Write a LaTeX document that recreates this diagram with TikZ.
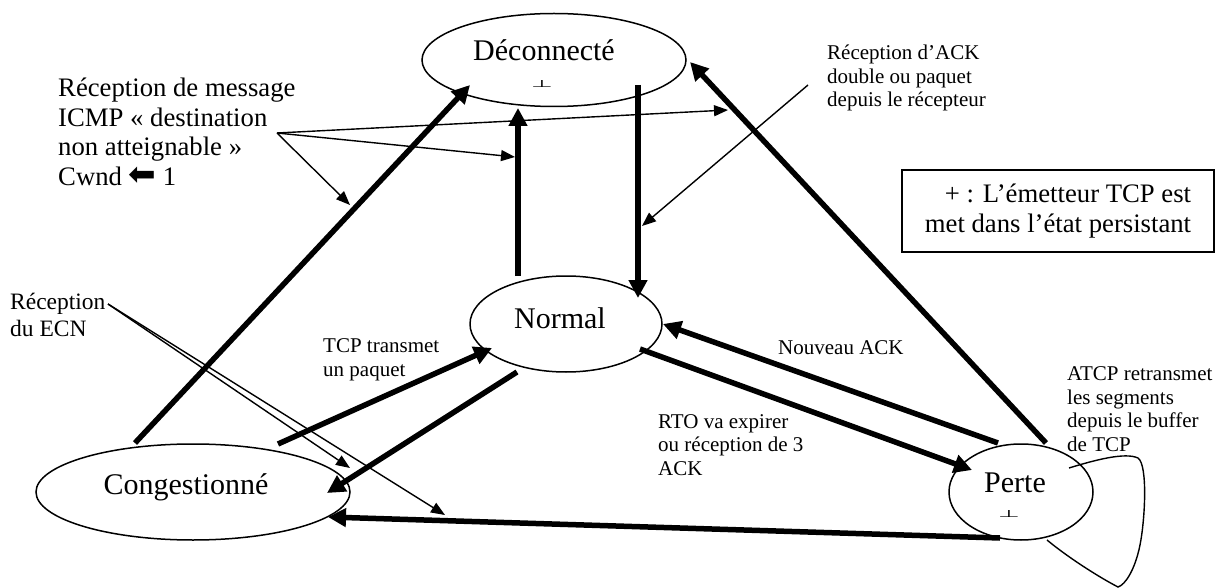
\documentclass[tikz,border=0pt]{standalone}
\usepackage{fontspec}
\setmainfont{Liberation Serif}
\newfontfamily\symf{DejaVu Sans}
\usetikzlibrary{shapes.geometric,calc,arrows.meta}
\begin{document}
\begin{tikzpicture}[x=1pt,y=-1pt,
  state/.style={draw, ellipse, line width=1.5pt, inner sep=0pt},
  big/.style={font=\fontsize{30}{34}\selectfont, inner sep=0pt},
  lab/.style={font=\fontsize{26.7}{29.5}\selectfont, align=left, inner sep=0pt},
  small/.style={font=\fontsize{21}{23.5}\selectfont, align=left, inner sep=0pt},
  mid/.style={font=\fontsize{23.5}{26.5}\selectfont, align=left, inner sep=0pt},
  tack/.style={font=\symf\fontsize{25}{25}\selectfont, inner sep=0pt, outer sep=0pt},
  fat/.style={line width=5.5pt, -{Triangle[length=18pt,width=18pt]}},
  slim/.style={line width=1.4pt, -{Triangle[length=14pt,width=11pt]}},
  slimline/.style={line width=1.4pt}]
\useasboundingbox (0,0) rectangle (1229,588);

% states
\node[state, minimum width=264pt, minimum height=93pt] (dec) at (554,60) {};
\node[state, minimum width=192pt, minimum height=96pt] (nor) at (566,324) {};
\node[state, minimum width=314pt, minimum height=96pt] (con) at (193,492) {};
\node[state, minimum width=144pt, minimum height=96pt] (per) at (1021,492) {};

\node[big] (decT) at (544,50) {Déconnecté};
\node[big] (norT) at (560,318) {Normal};
\node[big] (conT) at (186,487) {Congestionné};
\node[big] (perT) at (1015,483) {Perte};

% half-cut plus marks, printed as a flat up tack
\node[tack] (plusD) at (542,84) {\scalebox{1}[0.4]{⊥}};
\node[tack] (plusP) at (1009,514) {\scalebox{1}[0.4]{⊥}};

% legend
\node[draw, line width=1.4pt, minimum width=312pt, minimum height=82pt,
      lab, align=right] (leg) at (1058,211)
      {+ : L’émetteur TCP est\\met dans l’état persistant};

% labels
\node[lab, anchor=west] (icmp) at (58,132)
  {Réception de message\\ICMP « destination\\non atteignable »\\Cwnd {\symf\fontsize{33}{30}\selectfont ⬅} 1};
\node[small, anchor=west] (ack2) at (827,78)
  {Réception d’ACK\\double ou paquet\\depuis le récepteur};
\node[mid, anchor=west] (ecn) at (10,315) {Réception\\du ECN};
\node[small, anchor=west] (tcpt) at (323,360) {TCP transmet\\un paquet};
\node[small, anchor=west] (nack) at (778,348) {Nouveau ACK};
\node[small, anchor=west] (rto) at (658,445) {RTO va expirer\\ou réception de 3\\ACK};
\node[small, anchor=west] (atcp) at (1067,409)
  {ATCP retransmet\\les segments\\depuis le buffer\\de TCP};

% thick transitions
\draw[fat] ($(con)+(-58,-49)$) -- ($(dec)+(-84,25)$);
\draw[fat] ($(nor)+(-48,-48)$) -- ($(dec)+(-36,48)$);
\draw[fat] ($(dec)+(84,25)$) -- ($(nor)+(72,-26)$);
\draw[fat] ($(per)+(25,-49)$) -- ($(dec)+(136,2)$);
\draw[fat] ($(per)+(-23,-49)$) -- ($(nor)+(97,0)$);
\draw[fat] ($(nor)+(74,25)$) -- ($(per)+(-49,-22)$);
\draw[fat] ($(con)+(85,-48)$) -- ($(nor)+(-74,24)$);
\draw[fat] ($(nor)+(-49,48)$) -- ($(con)+(134,1)$);
\draw[fat] ($(per)+(-21,46)$) -- ($(con)+(135,25)$);

% thin pointers
\coordinate (icmpP) at (277,133);
\coordinate (tA) at (350,205);
\coordinate (tB) at (515,157);
\coordinate (tC) at (728,110);
\draw[slim] (icmpP) -- (tA);
\draw[slim] (icmpP) -- (tB);
\draw[slim] (icmpP) -- (tC);

\coordinate (ackP) at (808,85);
\coordinate (tD) at (642,226);
\draw[slim] (ackP) -- (tD);

\coordinate (ecnP) at (108,304);
\coordinate (tE) at (350,468);
\coordinate (tF) at (445,515);
\draw[slim] (ecnP) -- (tE);
\draw[slim] (ecnP) -- (tF);

% self loop on Perte
\draw[slimline] ($(per)+(48,-24)$) .. controls (1095,460) and (1125,452) .. (1138,458)
  .. controls (1148,465) and (1145,520) .. (1140,545)
  .. controls (1135,570) and (1125,585) .. (1118,587)
  .. controls (1095,575) and (1065,555) .. ($(per)+(26,48)$);
\end{tikzpicture}
\end{document}
